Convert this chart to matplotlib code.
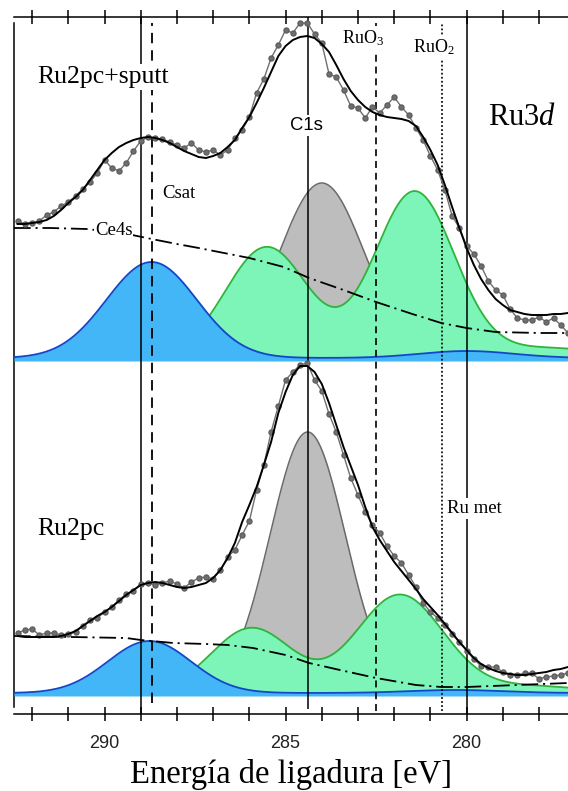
import numpy as np
import matplotlib
matplotlib.use('Agg')
import matplotlib.pyplot as plt
from matplotlib.ticker import MultipleLocator, FuncFormatter

plt.rcParams['font.family'] = 'Liberation Serif'
plt.rcParams['mathtext.fontset'] = 'custom'
plt.rcParams['mathtext.rm'] = 'Liberation Serif'
plt.rcParams['mathtext.it'] = 'Liberation Serif:italic'
plt.rcParams['lines.scale_dashes'] = False

# binding energy grid of both spectra (0.2 eV step)
energy = np.linspace(292.4, 277.2, 77)

# Ru2pc+sputt (upper spectrum), intensity in arbitrary units
top_data = [493, 490, 491, 493, 499, 502, 508, 512, 518, 525, 532, 541, 554, 546, 543, 551,
            563, 573, 577, 576, 575, 572, 569, 566, 571, 564, 562, 564, 559, 564, 576, 584,
            597, 621, 635, 656, 669, 684, 681, 691, 691, 680, 671, 640, 637, 624, 608, 606,
            596, 607, 601, 609, 617, 607, 599, 586, 574, 558, 544, 524, 498, 486, 468, 460,
            448, 433, 424, 419, 405, 396, 394, 394, 397, 392, 396, 389, 381]
top_fit = [490, 490, 491, 492, 494, 498, 504, 511, 517, 524, 534, 544, 554, 561, 567, 571,
           574, 576, 577, 576, 574, 571, 567, 563, 560, 557, 556, 558, 561, 567, 574, 586,
           597, 611, 626, 642, 658, 668, 674, 677, 678, 676, 670, 662, 649, 635, 623, 614,
           607, 602, 599, 597, 596, 595, 593, 588, 577, 564, 549, 529, 507, 486, 466, 449,
           435, 424, 415, 409, 404, 402, 400, 399, 399, 399, 400, 400, 401]

# Ru2pc (lower spectrum)
bot_data = [81, 84, 85, 79, 81, 81, 79, 80, 82, 88, 94, 96, 102, 107, 114, 120,
            123, 130, 131, 129, 131, 133, 130, 126, 132, 136, 137, 135, 144, 157, 164, 179,
            193, 224, 249, 282, 308, 334, 342, 349, 351, 334, 323, 300, 282, 259, 236, 219,
            202, 189, 181, 168, 158, 151, 139, 127, 111, 102, 96, 89, 80, 72, 63, 55,
            48, 47, 47, 42, 39, 39, 41, 41, 35, 37, 38, 39, 41]
bot_fit = [78, 77, 77, 77, 77, 77, 78, 80, 83, 88, 93, 98, 102, 107, 113, 119,
           124, 129, 131, 132, 131, 129, 127, 126, 127, 129, 131, 136, 144, 156, 171, 192,
           209, 227, 249, 272, 301, 322, 339, 348, 348, 342, 330, 311, 289, 267, 248, 229,
           207, 187, 174, 163, 152, 143, 134, 125, 115, 107, 99, 90, 81, 72, 64, 56,
           50, 46, 43, 41, 40, 39, 39, 40, 41, 42, 44, 45, 47]

# backgrounds (dash-dot), read at a few energies
bg_top_e = [292.5, 291.5, 290.5, 289.5, 288.7, 288.0, 287.4, 286.0, 285.05, 284.35,
            283.4, 282.5, 281.5, 280.7, 280.0, 279.2, 278.0, 277.2]
bg_top = [486, 486, 485, 481, 475, 470, 466, 456, 447, 436, 424, 412, 400, 391, 386, 382, 381, 381]
bg_bot_e = [292.5, 290.9, 289.4, 289.0, 288.1, 287.2, 286.6, 285.9, 285.0, 284.35,
            283.5, 282.5, 281.4, 280.7, 280.0, 278.6, 277.2]
bg_bot = [78, 77, 76, 74, 71, 70, 69, 66, 59, 51, 44, 36, 29, 27, 27, 29, 31]

# fitted components: (centre eV, height, sigma eV) above each baseline
top_base = 356
bot_base = 21
top_blue = [(288.7, 96, 1.25), (280.0, 7, 1.3)]
top_gray = [(284.0, 175, 1.17)]
top_green = [(285.52, 111, 1.14), (281.44, 166, 1.10), (277.8, 10, 1.6)]
bot_blue = [(288.76, 52, 1.15), (280.3, 3, 1.3)]
bot_gray = [(284.39, 261, 1.04)]
bot_green = [(285.94, 65, 1.12), (281.85, 98, 1.2), (278.3, 7, 1.5)]

# reference binding energies
ref_e = [289.0, 288.7, 284.37, 282.49, 280.69, 280.0]


def gauss(e, peaks):
    out = np.zeros_like(e)
    for c, h, s in peaks:
        out += h * np.exp(-(e - c) ** 2 / (2 * s ** 2))
    return out


fig = plt.figure(figsize=(5.68, 7.91), dpi=100)
ax = fig.add_axes([14 / 568, 77 / 791, 554 / 568, 697 / 791])

e = np.linspace(292.5, 277.2, 500)
for base, blue, gray, green in [(top_base, top_blue, top_gray, top_green),
                                (bot_base, bot_blue, bot_gray, bot_green)]:
    g = base + gauss(e, gray)
    ax.fill_between(e, base, g, color='#bdbdbd', lw=0, zorder=1)
    ax.plot(e, g, color='#6a6a6a', lw=1.1, zorder=1.1)
    gr = base + gauss(e, green)
    ax.fill_between(e, base, gr, color='#7df5b9', lw=0, zorder=2)
    ax.plot(e, gr, color='#2fb33c', lw=1.3, zorder=2.1)
    b = base + gauss(e, blue)
    ax.fill_between(e, base - 3, b, color='#42b6f6', lw=0, zorder=3)
    ax.plot(e, b, color='#1446c8', lw=1.3, zorder=3.1)

# reference lines
ax.vlines(ref_e[0], 0, 697, color='k', lw=1.1, zorder=4)
ax.vlines(ref_e[1], 11, 691, color='k', lw=1.3, linestyles=[(0, (7.5, 5))], zorder=4)
ax.vlines(ref_e[2], 5, 697, color='k', lw=1.1, zorder=4)
ax.vlines(ref_e[3], 3, 691, color='k', lw=1.2, linestyles=[(0, (5, 3.5))], zorder=4)
ax.vlines(ref_e[4], 3, 691, color='k', lw=1.2, linestyles=[(0, (1.3, 1.6))], zorder=4)
ax.vlines(ref_e[5], 0, 697, color='k', lw=1.1, zorder=4)

dashdot = (0, (12, 3.5, 1.5, 3.5))
ax.plot(bg_top_e, bg_top, color='k', lw=1.3, ls=dashdot, zorder=5)
ax.plot(bg_bot_e, bg_bot, color='k', lw=1.3, ls=dashdot, zorder=5)

for data, fit in [(top_data, top_fit), (bot_data, bot_fit)]:
    ax.plot(energy, data, color='#6f6f6f', lw=1.0, marker='o', ms=3.6,
            mec='#5f5f5f', mfc='#6f6f6f', zorder=6)
    ax.plot(energy, fit, color='k', lw=1.4, zorder=7)

wb = dict(facecolor='white', edgecolor='none', pad=1.5)
ax.text(291.86, 631, 'Ru2pc+sputt', fontsize=18.5, va='baseline', bbox=wb, zorder=8)
ax.text(288.41, 516, 'Csat', fontsize=13.5, va='baseline', zorder=8)
ax.text(290.26, 479, 'Ce4s', fontsize=13.5, va='baseline', bbox=dict(facecolor='white', edgecolor='none', pad=0.5), zorder=8)
ax.text(284.88, 584, 'C1s', fontsize=13.3, family='Liberation Sans', va='baseline', bbox=wb, zorder=8)
ax.text(283.44, 671, 'RuO$_3$', fontsize=13, va='baseline', bbox=wb, zorder=8)
ax.text(281.48, 662, 'RuO$_2$', fontsize=13, va='baseline', bbox=wb, zorder=8)
ax.text(279.41, 589, 'Ru$\\mathit{3d}$', fontsize=22, va='baseline', zorder=8)
ax.text(291.86, 179, 'Ru2pc', fontsize=18.5, va='baseline', zorder=8)
ax.text(280.54, 201, 'Ru met', fontsize=13.5, va='baseline', bbox=wb, zorder=8)

ax.set_xlim(292.5, 277.2)
ax.set_ylim(0, 697)
ax.set_yticks([])
ax.xaxis.set_major_locator(MultipleLocator(1))
ax.xaxis.set_major_formatter(FuncFormatter(lambda v, p: '%d' % round(v) if round(v) % 5 == 0 else ''))
ax.tick_params(axis='x', which='major', direction='inout', length=10, width=1.1,
               top=True, bottom=True, labelsize=13, pad=10, labelcolor='#222222')
for lab in ax.get_xticklabels():
    lab.set_family('Liberation Sans')
ax.spines['right'].set_visible(False)
ax.spines['left'].set_bounds(7, 691)
for s in ['top', 'bottom', 'left']:
    ax.spines[s].set_linewidth(1.1)

fig.text(291 / 568, 8 / 791, 'Energía de ligadura [eV]', fontsize=23.5, ha='center', va='baseline')

fig.savefig('out.png', dpi=100)
